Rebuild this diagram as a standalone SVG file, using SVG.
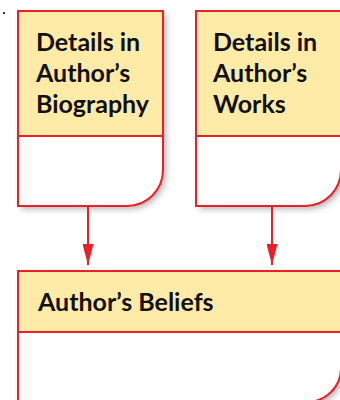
<svg xmlns="http://www.w3.org/2000/svg" width="340" height="400" viewBox="0 0 340 400">
  <defs>
    <filter id="shadow" x="-10%" y="-10%" width="130%" height="130%">
      <feDropShadow dx="3" dy="3" stdDeviation="3" flood-color="#000" flood-opacity="0.3"/>
    </filter>
    <marker id="arrowhead" viewBox="0 0 21 11" refX="21" refY="5.5" markerWidth="21" markerHeight="11" markerUnits="userSpaceOnUse" orient="auto">
      <polygon points="0,0 21,5.5 0,11" fill="#e8202a"/>
    </marker>
  </defs>
  <style>
    .card { fill: #ffffff; }
    .head { fill: #ffeba8; }
    .edge { fill: none; stroke: #e8202a; stroke-width: 2; }
    .label { font-family: Lato, "Liberation Sans", sans-serif; font-weight: 700; font-size: 25px; fill: #111111; }
    .link { stroke: #e8202a; stroke-width: 2; fill: none; }
  </style>

  <rect x="3" y="12" width="2" height="2" fill="#333333"/>

  <g id="biography">
    <path class="card" filter="url(#shadow)" d="M18,11 H163 V170 A36,36 0 0 1 127,206 H18 Z"/>
    <rect class="head" x="18" y="11" width="145" height="125"/>
    <line class="edge" x1="18" y1="136" x2="163" y2="136"/>
    <path class="edge" d="M18,11 H163 V170 A36,36 0 0 1 127,206 H18 Z"/>
    <text class="label" x="36" y="51">Details in</text>
    <text class="label" x="36" y="82">Author’s</text>
    <text class="label" x="36" y="113">Biography</text>
  </g>

  <g id="works">
    <path class="card" filter="url(#shadow)" d="M196,11 H341 V170 A36,36 0 0 1 305,206 H196 Z"/>
    <rect class="head" x="196" y="11" width="145" height="125"/>
    <line class="edge" x1="196" y1="136" x2="341" y2="136"/>
    <path class="edge" d="M196,11 H341 V170 A36,36 0 0 1 305,206 H196 Z"/>
    <text class="label" x="213" y="51">Details in</text>
    <text class="label" x="213" y="82">Author’s</text>
    <text class="label" x="213" y="113">Works</text>
  </g>

  <g id="beliefs">
    <path class="card" filter="url(#shadow)" d="M18,271 H341 V368 A34,34 0 0 1 307,402 H18 Z"/>
    <rect class="head" x="18" y="271" width="323" height="61"/>
    <line class="edge" x1="18" y1="332" x2="341" y2="332"/>
    <path class="edge" d="M18,271 H341 V368 A34,34 0 0 1 307,402 H18 Z"/>
    <text class="label" x="38" y="311">Author’s Beliefs</text>
  </g>

  <g id="connectors">
    <line class="link" x1="88" y1="207" x2="88" y2="265" marker-end="url(#arrowhead)"/>
    <line class="link" x1="272" y1="207" x2="272" y2="265" marker-end="url(#arrowhead)"/>
  </g>
</svg>
